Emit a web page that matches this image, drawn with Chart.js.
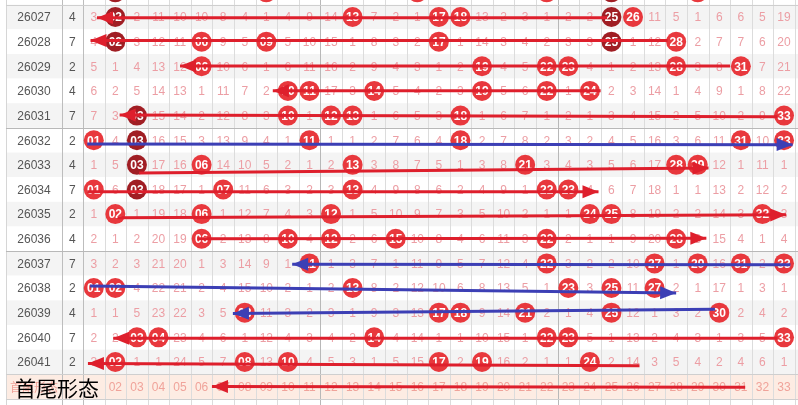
<!DOCTYPE html>
<html lang="zh">
<head>
<meta charset="UTF-8">
<title>首尾形态走势</title>
<script src="https://cdn.jsdelivr.net/npm/chart.js"></script>
<style>
  body { margin: 0; background: #fff; }
  #canvas { display: block; }
</style>
</head>
<body>
<canvas id="canvas" width="798" height="405"></canvas>
<script>
  const issues = ['26027','26028','26029','26030','26031','26032','26033','26034',
                  '26035','26036','26037','26038','26039','26040','26041'];
  const tailCol = [4, 7, 2, 4, 7, 2, 4, 7, 2, 4, 7, 2, 4, 7, 2];

  // row above 26027, only its lower edge is visible
  const prevDraw = [2, 9, 16, 22, 25, 29];
  const prevDark = [2, 25];

  const draws = [
    [2, 13, 17, 18, 25, 26],
    [2, 6, 9, 17, 25, 28],
    [6, 19, 22, 23, 28, 31],
    [10, 11, 14, 19, 22, 24],
    [3, 10, 12, 13, 18, 33],
    [1, 3, 11, 18, 31, 33],
    [3, 6, 13, 21, 28, 29],
    [1, 3, 7, 13, 22, 23],
    [2, 6, 12, 24, 25, 32],
    [6, 10, 12, 15, 22, 28],
    [11, 22, 27, 29, 31, 33],
    [1, 2, 13, 23, 25, 27],
    [8, 17, 18, 21, 25, 30],
    [3, 4, 14, 22, 23, 33],
    [2, 8, 10, 17, 19, 24]
  ];
  const darkBalls = [[2, 25], [2, 25], [], [], [3], [3], [3], [3], [], [], [], [], [], [], []];

  // omission counts, 0 = drawn
  const misses = [
    [3,0,2,11,10,10,8,4,1,4,9,14,0,7,2,1,0,0,13,2,3,1,2,2,0,0,11,5,1,6,6,5,19],
    [4,0,3,12,11,0,9,5,0,5,10,15,1,8,3,2,0,1,14,3,4,2,3,3,0,1,12,0,2,7,7,6,20],
    [5,1,4,13,12,0,10,6,1,6,11,16,2,9,4,3,1,2,0,4,5,0,0,4,1,2,13,0,3,8,0,7,21],
    [6,2,5,14,13,1,11,7,2,0,0,17,3,0,5,4,2,3,0,5,6,0,1,0,2,3,14,1,4,9,1,8,22],
    [7,3,0,15,14,2,12,8,3,0,1,0,0,1,6,5,3,0,1,6,7,1,2,1,3,4,15,2,5,10,2,9,0],
    [0,4,0,16,15,3,13,9,4,1,0,1,1,2,7,6,4,0,2,7,8,2,3,2,4,5,16,3,6,11,0,10,0],
    [1,5,0,17,16,0,14,10,5,2,1,2,0,3,8,7,5,1,3,8,0,3,4,3,5,6,17,0,0,12,1,11,1],
    [0,6,0,18,17,1,0,11,6,3,2,3,0,4,9,8,6,2,4,9,1,0,0,4,6,7,18,1,1,13,2,12,2],
    [1,0,1,19,18,0,1,12,7,4,3,0,1,5,10,9,7,3,5,10,2,1,1,0,0,8,19,2,2,14,3,0,3],
    [2,1,2,20,19,0,2,13,8,0,4,0,2,6,0,10,8,4,6,11,3,0,2,1,1,9,20,0,3,15,4,1,4],
    [3,2,3,21,20,1,3,14,9,1,0,1,3,7,1,11,9,5,7,12,4,0,3,2,2,10,0,1,0,16,0,2,0],
    [0,0,4,22,21,2,4,15,10,2,1,2,0,8,2,12,10,6,8,13,5,1,0,3,0,11,0,2,1,17,1,3,1],
    [1,1,5,23,22,3,5,0,11,3,2,3,1,9,3,13,0,0,9,14,0,2,1,4,0,12,1,3,2,0,2,4,2],
    [2,2,0,0,23,4,6,1,12,4,3,4,2,0,4,14,1,1,10,15,1,0,0,5,1,13,2,4,3,1,3,5,0],
    [3,0,1,1,24,5,7,0,13,0,4,5,3,1,5,15,0,2,0,16,2,1,1,0,2,14,3,5,4,2,4,6,1]
  ];

  const footLabels = ['', '02','03','04','05','06','07','08','09','10','11','12','13','14','15',
                      '16','17','18','19','20','21','22','23','24','25','26','27','28','29','30',
                      '31','32','33'];

  // hand drawn arrows: [column, row] from -> to (head at "to")
  const arrowFrom = [[24.8,0.03],[27.6,0.95],[30.5,1.99],[24.5,2.99],[32.7,4.05],[0.7,5.15],
                     [3.1,6.33],[0.7,7.09],[2.1,8.15],[5.8,9.0],[33.3,10.05],[0.83,10.92],
                     [29.8,11.86],[32.7,13.04],[26.3,14.15],[31.2,15.03]];
  const arrowTo   = [[1.15,0.03],[0.85,0.95],[5.0,1.99],[9.3,2.99],[2.2,3.98],[33.4,5.18],
                     [29.5,6.13],[24.4,7.09],[33.1,8.03],[29.4,8.98],[10.2,10.03],[28.0,11.2],
                     [7.45,12.03],[1.9,13.04],[0.73,14.06],[6.48,15.0]];
  const arrowBlue = [5, 10, 11, 12];

  const RED = '#e8383d', DARK = '#a01e24';
  const LINE_RED = '#de1f2c', LINE_BLUE = '#3c3fb5';

  const balls = [];
  prevDraw.forEach(n => balls.push({ x: n, y: -1, n: n, dark: prevDark.includes(n) }));
  draws.forEach((row, r) => row.forEach(n => balls.push({ x: n, y: r, n: n, dark: darkBalls[r].includes(n) })));

  const datasets = [];
  arrowFrom.forEach((a, i) => {
    datasets.push({
      type: 'scatter',
      showLine: true,
      data: [{ x: a[0], y: a[1] }, { x: arrowTo[i][0], y: arrowTo[i][1] }],
      borderColor: arrowBlue.includes(i) ? LINE_BLUE : LINE_RED,
      borderWidth: 3,
      pointRadius: 0,
      order: 0,
      clip: false
    });
  });
  datasets.push({
    type: 'scatter',
    data: balls,
    pointRadius: 10,
    pointBorderWidth: 0,
    pointBackgroundColor: ctx => (ctx.raw && ctx.raw.dark) ? DARK : RED,
    order: 1,
    clip: false
  });
  const BALL_INDEX = datasets.length - 1;

  const FONT = '"Liberation Sans", Arial, sans-serif';

  const tablePlugin = {
    id: 'table',
    beforeDatasetsDraw(chart) {
      const { ctx, scales: { x, y } } = chart;
      const left = x.getPixelForValue(-3.07);
      const right = chart.width;
      ctx.save();
      for (let r = -1; r <= 14; r++) {
        const t = y.getPixelForValue(r - 0.5), b = y.getPixelForValue(r + 0.5);
        ctx.fillStyle = (r % 2 === 0) ? '#f4f4f4' : '#ffffff';
        ctx.fillRect(left, t, right - left, b - t);
      }
      const ft = y.getPixelForValue(14.5), fb = y.getPixelForValue(15.5);
      ctx.fillStyle = '#fdece3';
      ctx.fillRect(left, ft, right - left, fb - ft);

      // vertical lines
      const vline = (k, color) => {
        const px = Math.round(x.getPixelForValue(k)) + 0.5;
        ctx.strokeStyle = color;
        ctx.lineWidth = 1;
        ctx.beginPath();
        ctx.moveTo(px, 0);
        ctx.lineTo(px, chart.height);
        ctx.stroke();
      };
      vline(-3.07, '#d6d6d6');
      for (let j = 1; j <= 33; j++) vline(j + 0.5, (j === 11 || j === 22) ? '#b8b8b8' : '#dcdcdc');
      vline(-0.473, '#bdbdbd');
      vline(0.5, '#bdbdbd');

      const hline = (r, color) => {
        const py = Math.round(y.getPixelForValue(r)) + 0.5;
        ctx.strokeStyle = color;
        ctx.beginPath();
        ctx.moveTo(left, py);
        ctx.lineTo(right, py);
        ctx.stroke();
      };
      hline(-0.5, '#cfcfcf');
      hline(4.5, '#b8b8b8');
      hline(9.5, '#b8b8b8');
      hline(14.5, '#cfcfcf');
      hline(15.5, '#cfcfcf');

      ctx.textAlign = 'center';
      ctx.textBaseline = 'middle';
      issues.forEach((s, r) => {
        const py = y.getPixelForValue(r) + 1;
        ctx.fillStyle = '#555';
        ctx.font = '12px ' + FONT;
        ctx.fillText(s, x.getPixelForValue(-1.77), py);
        ctx.fillText(String(tailCol[r]), x.getPixelForValue(0.01), py);
        ctx.fillStyle = '#ec9ea4';
        misses[r].forEach((v, c) => {
          if (v > 0) ctx.fillText(String(v), x.getPixelForValue(c + 1), py);
        });
      });
      const fy = y.getPixelForValue(15) + 1;
      ctx.fillStyle = '#f0a39a';
      ctx.font = '12px ' + FONT;
      footLabels.forEach((s, c) => { if (s) ctx.fillText(s, x.getPixelForValue(c + 1), fy); });
      ctx.font = '12px "Noto Sans CJK SC", sans-serif';
      ctx.fillText('首尾形态', x.getPixelForValue(-1.77), fy);
      ctx.restore();
    },
    afterDatasetDraw(chart, args) {
      if (args.index !== BALL_INDEX) return;
      const { ctx, scales: { x, y } } = chart;
      ctx.save();
      ctx.fillStyle = '#fff';
      ctx.font = 'bold 12px ' + FONT;
      ctx.textAlign = 'center';
      ctx.textBaseline = 'middle';
      balls.forEach(b => {
        ctx.fillText(String(b.n).padStart(2, '0'), x.getPixelForValue(b.x), y.getPixelForValue(b.y) + 1);
      });
      ctx.restore();
    },
    afterDatasetsDraw(chart) {
      const { ctx, scales: { x, y } } = chart;
      ctx.save();
      arrowTo.forEach((t, i) => {
        const fx = x.getPixelForValue(arrowFrom[i][0]), fy = y.getPixelForValue(arrowFrom[i][1]);
        const tx = x.getPixelForValue(t[0]), ty = y.getPixelForValue(t[1]);
        const a = Math.atan2(ty - fy, tx - fx);
        const len = 16, half = 6.5;
        ctx.fillStyle = arrowBlue.includes(i) ? LINE_BLUE : LINE_RED;
        ctx.beginPath();
        ctx.moveTo(tx, ty);
        ctx.lineTo(tx - len * Math.cos(a) - half * Math.sin(a), ty - len * Math.sin(a) + half * Math.cos(a));
        ctx.lineTo(tx - len * Math.cos(a) + half * Math.sin(a), ty - len * Math.sin(a) - half * Math.cos(a));
        ctx.closePath();
        ctx.fill();
      });
      ctx.fillStyle = '#000';
      ctx.font = '21px "Noto Sans CJK SC", sans-serif';
      ctx.textAlign = 'left';
      ctx.textBaseline = 'middle';
      ctx.fillText('首尾形态', 15, y.getPixelForValue(15) + 1);
      ctx.restore();
    }
  };

  window.onload = function () {
    const ctx = document.getElementById('canvas').getContext('2d');
    new Chart(ctx, {
      type: 'scatter',
      data: { datasets: datasets },
      options: {
        responsive: false,
        animation: false,
        events: [],
        layout: { padding: 0, autoPadding: false },
        plugins: { legend: { display: false }, tooltip: { enabled: false } },
        scales: {
          x: { type: 'linear', display: false, min: -3.347, max: 33.649 },
          y: { type: 'linear', display: false, reverse: true, min: -0.69, max: 15.747 }
        }
      },
      plugins: [tablePlugin]
    });
  };
</script>
</body>
</html>
